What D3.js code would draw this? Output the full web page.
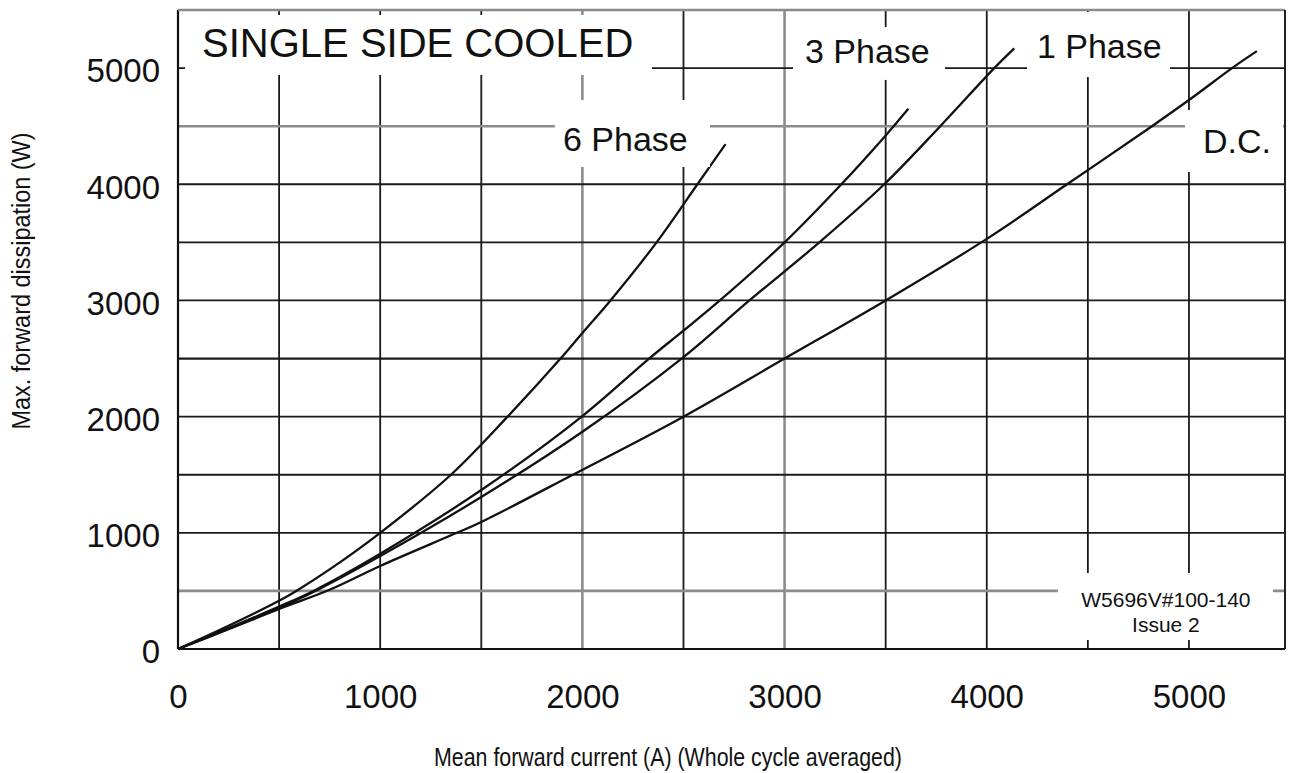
<!DOCTYPE html>
<html>
<head>
<meta charset="utf-8">
<script src="https://cdn.jsdelivr.net/npm/d3@7"></script>
<style>
  html, body { margin: 0; padding: 0; background: #fff; }
  svg { display: block; }
  text { font-family: "Liberation Sans", Arial, Helvetica, sans-serif; fill: #111; }
</style>
</head>
<body>
<svg id="chart" width="1292" height="773"></svg>
<script>
// ---------------- data ----------------
const xTickValues = [0, 1000, 2000, 3000, 4000, 5000];
const yTickValues = [0, 1000, 2000, 3000, 4000, 5000];
const gridXValues = [500, 1000, 1500, 2000, 2500, 3000, 3500, 4000, 4500, 5000];
const gridYValues = [500, 1000, 1500, 2000, 2500, 3000, 3500, 4000, 4500, 5000];

const seriesNames = ["6 Phase", "3 Phase", "1 Phase", "D.C."];

const sixPhaseI = [0, 250, 500, 585, 750, 1000, 1350, 1630, 1892, 2000, 2139, 2367, 2569, 2708];
const sixPhaseP = [0, 200, 415, 500, 685, 1000, 1500, 2000, 2500, 2720, 3000, 3500, 4000, 4346];

const threePhaseI = [0, 250, 500, 670, 1000, 1500, 2000, 2330, 2500, 2680, 3000, 3281, 3500, 3612];
const threePhaseP = [0, 180, 365, 500, 820, 1368, 2005, 2500, 2740, 3000, 3500, 4000, 4420, 4650];

const onePhaseI = [0, 250, 500, 680, 1000, 1500, 2000, 2500, 2826, 3172, 3493, 3770, 4037, 4136];
const onePhaseP = [0, 175, 355, 500, 800, 1308, 1870, 2513, 3000, 3500, 4000, 4500, 5000, 5170];

const dcI = [0, 250, 500, 750, 1000, 1379, 1500, 1953, 2500, 3000, 3500, 4000, 4397, 4817, 5000, 5213, 5336];
const dcP = [0, 170, 345, 510, 715, 1000, 1093, 1500, 2000, 2500, 3000, 3530, 4000, 4500, 4725, 5000, 5146];

const titleText = "SINGLE SIDE COOLED";
const noteLines = ["W5696V#100-140", "Issue 2"];
const xAxisTitle = "Mean forward current (A) (Whole cycle averaged)";
const yAxisTitle = "Max. forward dissipation (W)";

// ---------------- layout ----------------
const svg = d3.select("#chart");
svg.append("rect").attr("width", 1292).attr("height", 773).attr("fill", "#fff");

const x = d3.scaleLinear().domain([0, 5475]).range([178, 1285]);
const y = d3.scaleLinear().domain([0, 5500]).range([649, 10]);

// grid styling (scan look): some lines lighter grey
const greyX = new Set([2000, 3000]);
const greyY = new Set([500, 4500]);

const grid = svg.append("g");
grid.selectAll("line.gx").data(gridXValues).join("line")
  .attr("x1", d => x(d)).attr("x2", d => x(d))
  .attr("y1", y.range()[0]).attr("y2", y.range()[1])
  .attr("stroke", d => greyX.has(d) ? "#8c8c8c" : "#1a1a1a")
  .attr("stroke-width", d => greyX.has(d) ? 2.6 : 1.8);
grid.selectAll("line.gy").data(gridYValues).join("line")
  .attr("y1", d => y(d)).attr("y2", d => y(d))
  .attr("x1", x.range()[0]).attr("x2", x.range()[1])
  .attr("stroke", d => greyY.has(d) ? "#8c8c8c" : "#1a1a1a")
  .attr("stroke-width", d => greyY.has(d) ? 2.6 : (d === 2500 ? 2.2 : 1.8));

// frame
const frame = svg.append("g");
frame.append("line").attr("x1", x(0)).attr("x2", x(0)).attr("y1", y(0)).attr("y2", y(5500))
  .attr("stroke", "#111").attr("stroke-width", 2.2);
frame.append("line").attr("x1", x(0)).attr("x2", x(5475)).attr("y1", y(5500)).attr("y2", y(5500))
  .attr("stroke", "#8a8a8a").attr("stroke-width", 2.4);
frame.append("line").attr("x1", x(5475)).attr("x2", x(5475)).attr("y1", y(0)).attr("y2", y(5500))
  .attr("stroke", "#222").attr("stroke-width", 2);
frame.append("line").attr("x1", x(0)).attr("x2", x(5475)).attr("y1", y(0)).attr("y2", y(0))
  .attr("stroke", "#111").attr("stroke-width", 2.2);

// curves
const seriesData = [
  d3.zip(sixPhaseI, sixPhaseP),
  d3.zip(threePhaseI, threePhaseP),
  d3.zip(onePhaseI, onePhaseP),
  d3.zip(dcI, dcP)
];
const line = d3.line().x(d => x(d[0])).y(d => y(d[1])).curve(d3.curveCatmullRom.alpha(0.5));
svg.append("g").selectAll("path").data(seriesData).join("path")
  .attr("d", line).attr("fill", "none").attr("stroke", "#111").attr("stroke-width", 2.3)
  .attr("stroke-linejoin", "round");

// annotation boxes (data units) with white background that breaks the grid
const annots = [
  { text: titleText, box: [35, 2344, 5457, 4941], tx: 119, ty: 5096, size: 40, anchor: "start" },
  { text: seriesNames[1], box: [3042, 3793, 5354, 4898], tx: 3101, ty: 5044, size: 34, anchor: "start" },
  { text: seriesNames[2], box: [4199, 4906, 5483, 4923], tx: 4248, ty: 5087, size: 34, anchor: "start" },
  { text: seriesNames[0], box: [1864, 2631, 4725, 4149], tx: 1904, ty: 4286, size: 34, anchor: "start" },
  { text: seriesNames[3], box: [4980, 5465, 4639, 4106], tx: 5069, ty: 4269, size: 34, anchor: "start" }
];
const ag = svg.append("g");
annots.forEach(a => {
  ag.append("rect")
    .attr("x", x(a.box[0])).attr("width", x(a.box[1]) - x(a.box[0]))
    .attr("y", y(a.box[2])).attr("height", y(a.box[3]) - y(a.box[2]))
    .attr("fill", "#fff");
  ag.append("text").attr("x", x(a.tx)).attr("y", y(a.ty))
    .attr("font-size", a.size).attr("text-anchor", a.anchor).text(a.text);
});

// note box
ag.append("rect")
  .attr("x", x(4352)).attr("width", x(5415) - x(4352))
  .attr("y", y(654)).attr("height", y(77) - y(654))
  .attr("fill", "#fff");
ag.selectAll("text.note").data(noteLines).join("text")
  .attr("class", "note")
  .attr("x", x(4886)).attr("y", (d, i) => y(i === 0 ? 361 : 146))
  .attr("text-anchor", "middle").attr("font-size", 21).text(d => d);

// axes
const xAxis = d3.axisBottom(x).tickValues(xTickValues).tickSize(0).tickPadding(36).tickFormat(d3.format("d"));
const gx = svg.append("g").attr("transform", `translate(0,${y(0)})`).call(xAxis);
gx.select(".domain").remove();
gx.selectAll("text").attr("font-size", 33).attr("font-family", "Liberation Sans, Arial, sans-serif").attr("fill", "#1a1a1a");

const yAxis = d3.axisLeft(y).tickValues(yTickValues).tickSize(0).tickPadding(18).tickFormat(d3.format("d"));
const gy = svg.append("g").attr("transform", `translate(${x(0)},0)`).call(yAxis);
gy.select(".domain").remove();
gy.selectAll("text").attr("font-size", 33).attr("font-family", "Liberation Sans, Arial, sans-serif").attr("fill", "#1a1a1a").attr("dy", "0.42em");

// axis titles
svg.append("text").attr("x", 668).attr("y", 766).attr("text-anchor", "middle")
  .attr("font-size", 25).attr("textLength", 468).attr("lengthAdjust", "spacingAndGlyphs")
  .text(xAxisTitle);
svg.append("text").attr("transform", "translate(30,281) rotate(-90)").attr("text-anchor", "middle")
  .attr("font-size", 25).attr("textLength", 297).attr("lengthAdjust", "spacingAndGlyphs")
  .text(yAxisTitle);
</script>
</body>
</html>
